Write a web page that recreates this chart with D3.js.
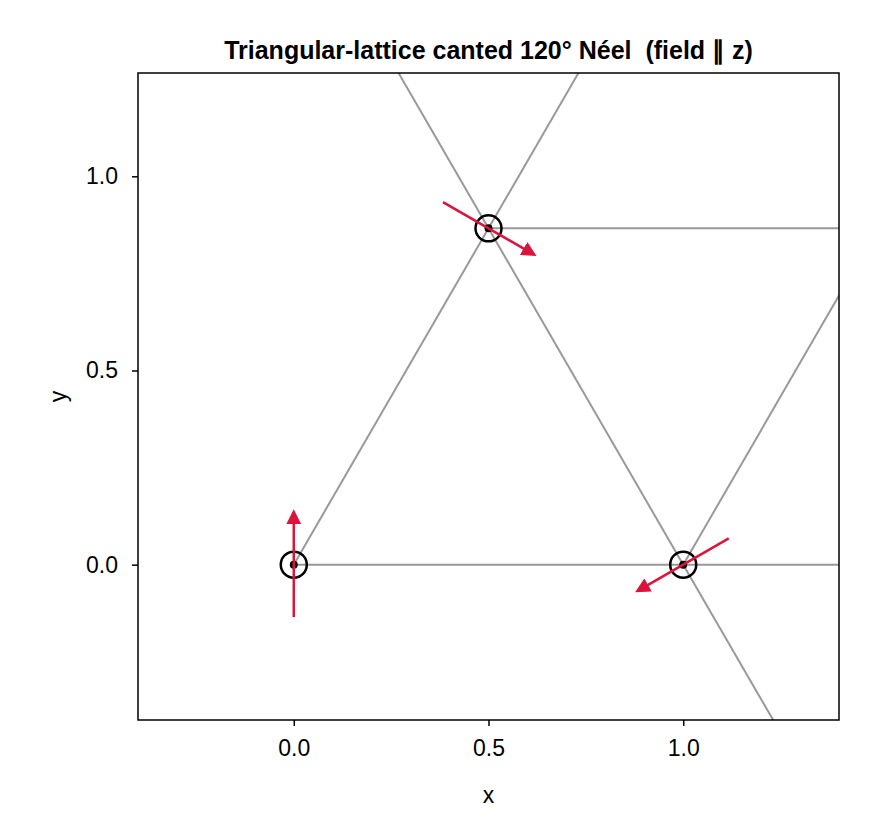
<!DOCTYPE html>
<html><head><meta charset="utf-8">
<script src="https://cdn.jsdelivr.net/npm/d3@7"></script>
<style>body{margin:0;background:#fff}</style>
</head><body>
<svg id="c" width="880" height="840"></svg>
<script>
const sites = [[0,0],[0.5,0.8660254],[1,0]];
const spinAngles = [90, -30, 210]; // degrees, in-plane component direction
const spinHalfLen = 0.135;
const bonds = [
  [[0,0],[1,0]],[[1,0],[2,0]],[[0,0],[0.5,0.8660254]],[[0.5,0.8660254],[1,1.7320508]],
  [[0.5,0.8660254],[1.5,0.8660254]],[[1,0],[0.5,0.8660254]],[[0.5,0.8660254],[0,1.7320508]],
  [[1,0],[1.5,-0.8660254]],[[1,0],[1.5,0.8660254]]
];
const xTicks = [0,0.5,1.0], yTicks = [0,0.5,1.0];
const title = "Triangular-lattice canted 120° Néel  (field ∥ z)";

const L=138,R=839,T=73,B=720;
const svg=d3.select("#c");
const x=d3.scaleLinear().domain([-0.4,1.4]).range([L,R]);
const y=d3.scaleLinear().domain([-0.4,1.2660254]).range([B,T]);
svg.append("defs").append("clipPath").attr("id","cp").append("rect")
  .attr("x",L).attr("y",T).attr("width",R-L).attr("height",B-T);
svg.select("defs").append("marker").attr("id","ah").attr("viewBox","0 0 10 10")
  .attr("refX",8).attr("refY",5).attr("markerWidth",6).attr("markerHeight",6)
  .attr("markerUnits","strokeWidth").attr("orient","auto")
  .append("path").attr("d","M0,0L10,5L0,10Z").attr("fill","#dc143c");
const g=svg.append("g").attr("clip-path","url(#cp)");
g.selectAll("line.b").data(bonds).join("line")
  .attr("x1",d=>x(d[0][0])).attr("y1",d=>y(d[0][1]))
  .attr("x2",d=>x(d[1][0])).attr("y2",d=>y(d[1][1]))
  .attr("stroke","#999").attr("stroke-width",2);
g.selectAll("circle.s").data(sites).join("circle")
  .attr("cx",d=>x(d[0])).attr("cy",d=>y(d[1])).attr("r",13)
  .attr("fill","none").attr("stroke","#000").attr("stroke-width",2.5);
g.selectAll("circle.d").data(sites).join("circle")
  .attr("cx",d=>x(d[0])).attr("cy",d=>y(d[1])).attr("r",4).attr("fill","#000");
g.selectAll("line.a").data(sites).join("line")
  .attr("x1",(d,i)=>x(d[0]-spinHalfLen*Math.cos(spinAngles[i]*Math.PI/180)))
  .attr("y1",(d,i)=>y(d[1]-spinHalfLen*Math.sin(spinAngles[i]*Math.PI/180)))
  .attr("x2",(d,i)=>x(d[0]+spinHalfLen*Math.cos(spinAngles[i]*Math.PI/180)))
  .attr("y2",(d,i)=>y(d[1]+spinHalfLen*Math.sin(spinAngles[i]*Math.PI/180)))
  .attr("stroke","#dc143c").attr("stroke-width",2.5).attr("marker-end","url(#ah)");
svg.append("rect").attr("x",L).attr("y",T).attr("width",R-L).attr("height",B-T)
  .attr("fill","none").attr("stroke","#000").attr("stroke-width",1.5);
const f="Liberation Sans, Arial, sans-serif";
const xa=svg.append("g").attr("transform",`translate(0,${B})`)
  .call(d3.axisBottom(x).tickValues(xTicks).tickFormat(d3.format(".1f")).tickSize(6).tickPadding(14));
const ya=svg.append("g").attr("transform",`translate(${L},0)`)
  .call(d3.axisLeft(y).tickValues(yTicks).tickFormat(d3.format(".1f")).tickSize(6).tickPadding(14));
[xa,ya].forEach(a=>{a.select(".domain").remove();
  a.selectAll("text").attr("font-family",f).attr("font-size",23).attr("fill","#000");
  a.selectAll("line").attr("stroke","#000").attr("stroke-width",1.5);});
svg.append("text").attr("x",(L+R)/2).attr("y",803).attr("text-anchor","middle")
  .attr("font-family",f).attr("font-size",23).text("x");
svg.append("text").attr("transform",`translate(66,${(T+B)/2}) rotate(-90)`).attr("text-anchor","middle")
  .attr("font-family",f).attr("font-size",23).text("y");
svg.append("text").attr("x",(L+R)/2).attr("y",59).attr("text-anchor","middle")
  .style("white-space","pre")
  .attr("font-family",f).attr("font-size",25).attr("font-weight","bold").text(title);
</script>
</body></html>
